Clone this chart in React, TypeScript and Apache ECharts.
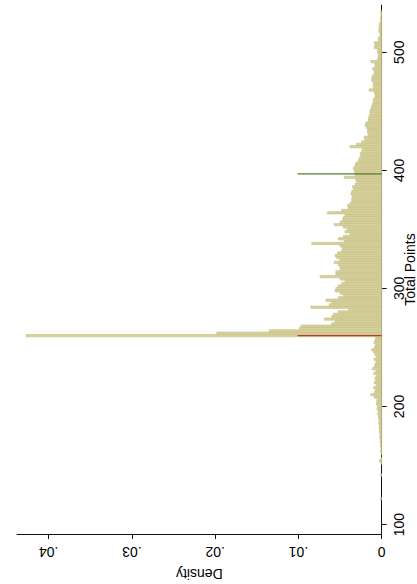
import React, { useEffect, useRef } from "react";
import * as echarts from "echarts";

// Histogram bins: start of each bin (width 2 points) and its density
const binWidth = 2;
const binStarts: number[] = Array.from({ length: 224 }, (_, i) => 93 + i * 2);

const densLow: number[] = [
  0, 0, 0, 0, 0, 0, 0, 0, 0, 0, 0, 0, 0, 0, // 93-119
  0.00016, 0, 0, 0, 0, 0, 0, 0, 0, 0, // 121-139
  0.00012, 0, 0, 0, 0, 0.00008, 0.00028, 0.00008, 0, 0.00008, // 141-159
  0.00012, 0.00008, 0.00016, 0.00012, 0.0002, 0.00016, 0.00024, 0.0002, 0.00028, 0.00024, // 161-179
  0.00032, 0.00028, 0.00036, 0.0003, 0.0004, 0.00036, 0.00048, 0.0004, 0.00056, 0.0005, // 181-199
  0.00064, 0.0006, 0.00056, 0.0009, 0.0013, 0.00088, 0.00072, 0.00096, 0.0006, 0.00088, // 201-219
  0.00072, 0.0008, 0.0006, 0.00096, 0.0007, 0.00112, 0.00088, 0.0008, 0.00064, 0.00092, // 221-239
  0.0006, 0.0008, 0.00096, 0.0012, 0.00088, 0.00072, 0.00092, 0.0008, 0.00072, // 241-257
];
const densPeak: number[] = [0.0427, 0.0198, 0.0135, 0.0099, 0.0097]; // 259-267
const densMid: number[] = [
  0.006, 0.0056, 0.0069, 0.006, 0.0058, 0.0052, 0.004, 0.0085, 0.0063, 0.006, // 269-287
  0.0067, 0.0052, 0.0046, 0.005, 0.0056, 0.0055, 0.0052, 0.0048, 0.0044, 0.005, // 289-307
  0.0074, 0.0055, 0.0055, 0.005, 0.005, 0.0052, 0.0057, 0.005, 0.0054, 0.0056, // 309-327
  0.0053, 0.0048, 0.0047, 0.005, 0.0084, 0.0045, 0.0052, 0.0046, 0.0038, 0.0044, // 329-347
  0.0041, 0.0046, 0.0057, 0.005, 0.0047, 0.0046, 0.0044, 0.0065, 0.0048, 0.004, // 349-367
  0.0041, 0.0038, 0.0036, 0.0036, 0.0035, 0.0037, 0.0036, 0.0034, 0.0035, 0.0032, // 369-387
  0.003, 0.0031, 0.0045, 0.0032, // 389-395
];
const densHigh: number[] = [
  0.0032, 0.0033, 0.0034, 0.0032, 0.0031, 0.0028, 0.0027, 0.0025, 0.0026, 0.0024, // 397-415
  0.0023, 0.0038, 0.003, 0.0024, 0.002, 0.0021, 0.0016, 0.0017, 0.0017, 0.0018, // 417-435
  0.002, 0.0019, 0.0016, 0.0016, 0.0015, 0.0014, 0.0014, 0.0013, 0.0012, 0.0011, // 437-455
  0.001, 0.001, 0.0008, 0.0008, 0.0009, 0.0015, 0.001, 0.001, 0.001, 0.0012, // 457-475
  0.0012, 0.0011, 0.0009, 0.0009, 0.0011, 0.0008, 0.0008, 0.0013, 0.0005, 0.0004, // 477-495
  0.0004, 0.0005, 0.0005, 0.0009, 0.0008, 0.0009, 0.0004, 0.0004, 0.0002, 0.0002, // 497-515
  0.00036, 0.0003, 0.00028, 0.00028, 0.00012, 0.00012, 0.00012, 0.00008, 0.00012, 0, // 517-535
  0, 0, // 537-539
];
const densities: number[] = [...densLow, ...densPeak, ...densMid, ...densHigh];

// Reference lines (Total Points value, density extent)
const refPoints: number[] = [260, 397];
const refColors: string[] = ["#b83a33", "#557d2f"];
const refExtent = 0.0101;

const xTicks: number[] = [0, 0.01, 0.02, 0.03, 0.04];
const yTicks: number[] = [100, 200, 300, 400, 500];

const FONT = "'Liberation Sans', Arial, Helvetica, sans-serif";

export default function App() {
  const ref = useRef<HTMLDivElement>(null);
  useEffect(() => {
    document.body.style.margin = "0";
    if (!ref.current) return;
    const chart = echarts.init(ref.current, undefined, { renderer: "svg" });
    const histData = binStarts.map((s, i) => [densities[i] ?? 0, s, s + binWidth]);
    const lineSeries = refPoints.map((p, i) => ({
      type: "line" as const,
      data: [
        [0, p],
        [refExtent, p],
      ],
      symbol: "none",
      lineStyle: { color: refColors[i], width: 1.3 },
      z: 5,
      silent: true,
    }));
    chart.setOption({
      animation: false,
      textStyle: { fontFamily: FONT },
      grid: {
        left: 17,
        right: 35.3,
        top: 5,
        bottom: 50,
        containLabel: false,
        outerBoundsMode: "none",
      },
      xAxis: {
        type: "value",
        inverse: true,
        min: 0,
        max: 0.0438,
        interval: 0.01,
        position: "bottom",
        splitLine: { show: false },
        axisLine: { show: true, lineStyle: { color: "#111", width: 1 } },
        axisTick: { show: true, length: 5, customValues: xTicks, lineStyle: { color: "#111" } },
        axisLabel: {
          rotate: 180,
          margin: 11,
          fontSize: 14,
          color: "#000",
          fontFamily: FONT,
          customValues: xTicks,
          formatter: (v: number) =>
            v === 0 ? "0" : "." + String(Math.round(v * 100)).padStart(2, "0"),
        },
        name: "Density",
        nameLocation: "middle",
        nameRotate: 180,
        nameGap: 33,
        nameMoveOverlap: false,
        nameTextStyle: { fontSize: 14, color: "#000", fontFamily: FONT },
      },
      yAxis: {
        type: "value",
        position: "right",
        min: 92,
        max: 540,
        splitLine: { show: false },
        axisLine: { show: true, onZero: false, lineStyle: { color: "#111", width: 1 } },
        axisTick: { show: true, length: 5, customValues: yTicks, lineStyle: { color: "#111" } },
        axisLabel: {
          rotate: 90,
          margin: 10,
          fontSize: 14,
          color: "#000",
          fontFamily: FONT,
          customValues: yTicks,
        },
        name: "Total Points",
        nameLocation: "middle",
        nameRotate: 90,
        nameGap: 21,
        nameMoveOverlap: false,
        nameTextStyle: { fontSize: 14, color: "#000", fontFamily: FONT },
      },
      series: [
        {
          type: "custom",
          data: histData,
          encode: { x: 0, y: [1, 2] },
          renderItem: (params: any, api: any) => {
            const d = api.value(0);
            if (!d) return null;
            const p0 = api.coord([0, api.value(1)]);
            const p1 = api.coord([d, api.value(2)]);
            const x = Math.min(p0[0], p1[0]);
            const y = Math.min(p0[1], p1[1]);
            return {
              type: "rect",
              shape: {
                x,
                y,
                width: Math.abs(p1[0] - p0[0]),
                height: Math.abs(p1[1] - p0[1]),
              },
              style: { fill: "#d6d09d", stroke: "#c6bf83", lineWidth: 0.6 },
            };
          },
          silent: true,
          z: 2,
        },
        ...lineSeries,
      ],
    });
    return () => chart.dispose();
  }, []);
  return <div ref={ref} style={{ width: 417, height: 584 }} />;
}
